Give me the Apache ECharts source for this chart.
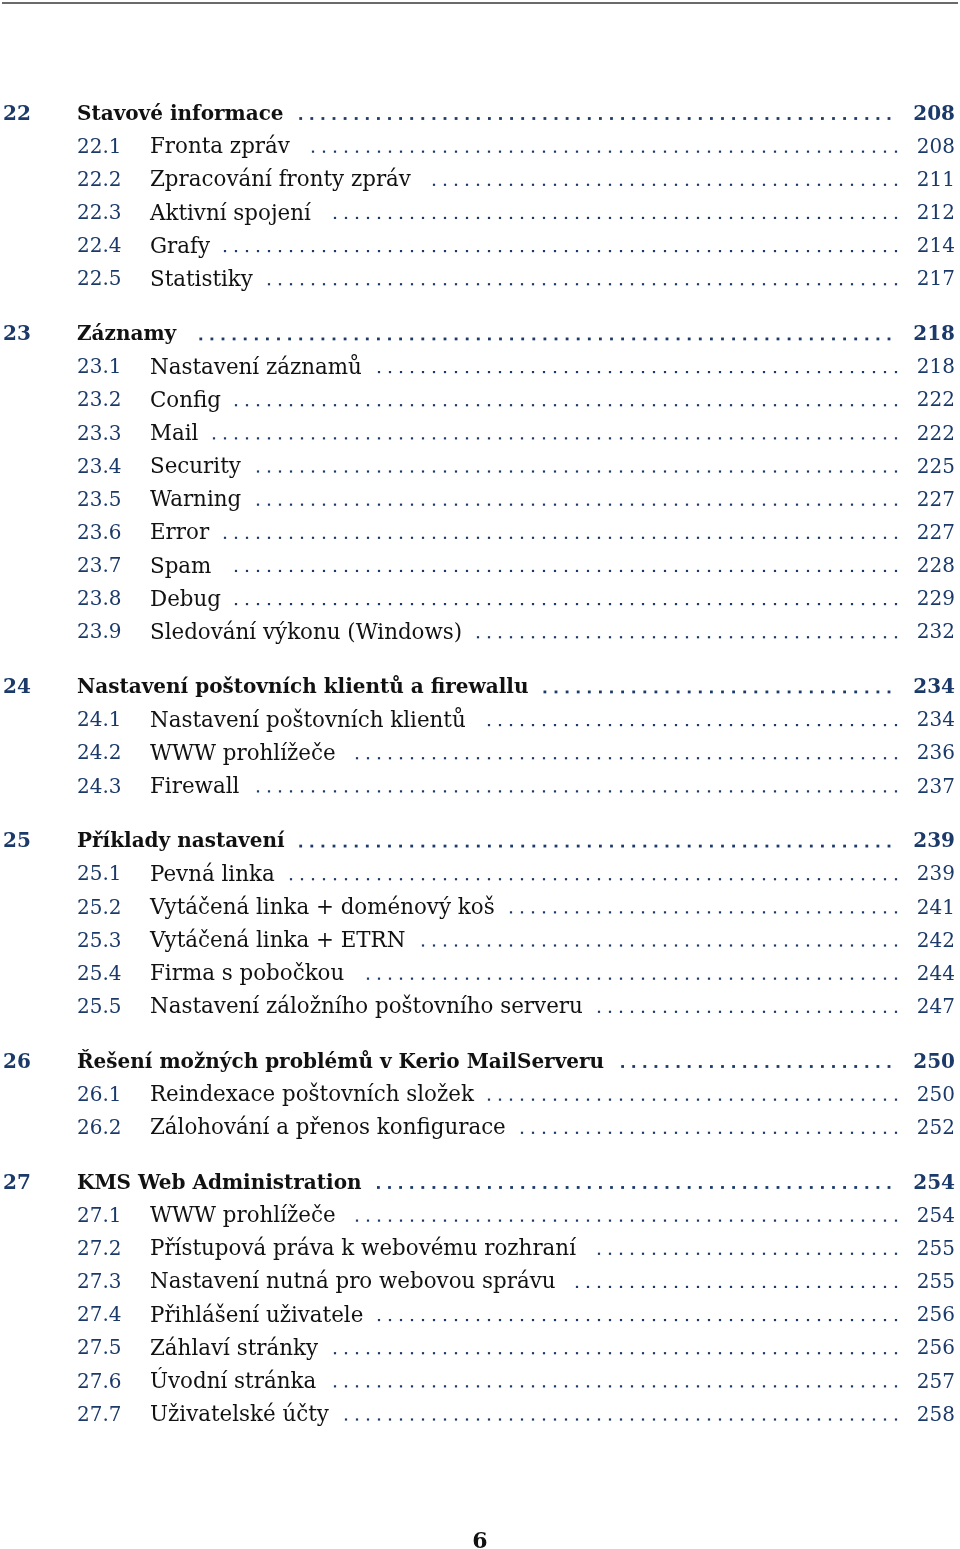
<!DOCTYPE html>
<html>
<head>
<meta charset="utf-8">
<script src="https://cdn.jsdelivr.net/npm/echarts@6/dist/echarts.min.js"></script>
<style>
html,body{margin:0;padding:0;background:#fff;}
#chart{width:960px;height:1549px;}
</style>
</head>
<body>
<div id="chart"></div>
<script>
// ---- data ----
const entryNumbers = ['22','22.1','22.2','22.3','22.4','22.5',
  '23','23.1','23.2','23.3','23.4','23.5','23.6','23.7','23.8','23.9',
  '24','24.1','24.2','24.3',
  '25','25.1','25.2','25.3','25.4','25.5',
  '26','26.1','26.2',
  '27','27.1','27.2','27.3','27.4','27.5','27.6','27.7'];
const entryTitles = ['Stavové informace','Fronta zpráv','Zpracování fronty zpráv','Aktivní spojení','Grafy','Statistiky',
  'Záznamy','Nastavení záznamů','Config','Mail','Security','Warning','Error','Spam','Debug','Sledování výkonu (Windows)',
  'Nastavení poštovních klientů a firewallu','Nastavení poštovních klientů','WWW prohlížeče','Firewall',
  'Příklady nastavení','Pevná linka','Vytáčená linka + doménový koš','Vytáčená linka + ETRN','Firma s pobočkou','Nastavení záložního poštovního serveru',
  'Řešení možných problémů v Kerio MailServeru','Reindexace poštovních složek','Zálohování a přenos konfigurace',
  'KMS Web Administration','WWW prohlížeče','Přístupová práva k webovému rozhraní','Nastavení nutná pro webovou správu','Přihlášení uživatele','Záhlaví stránky','Úvodní stránka','Uživatelské účty'];
const entryPages = [208,208,211,212,214,217,
  218,218,222,222,225,227,227,228,229,232,
  234,234,236,237,
  239,239,241,242,244,247,
  250,250,252,
  254,254,255,255,256,256,257,258];
const pageNumber = '6';

// ---- layout / style ----
const FONT = '"DejaVu Serif", serif';
const SIZE = 20;          // numbers and chapter titles
const TITLE_SIZE = 21.4;  // section titles
const NAVY = '#1b3a6a';
const INK = '#111111';
const CHAPTER_GAP = 0.65; // extra rows before each chapter
const TEXT_DY = 2.5;

const measureCtx = document.createElement('canvas').getContext('2d');
function textWidth(t, font) {
  measureCtx.font = font;
  return measureCtx.measureText(t).width;
}

// row positions derived from the entries
let chapterCount = -1;
const rows = entryNumbers.map((n, i) => {
  const isChapter = n.indexOf('.') < 0;
  if (isChapter) chapterCount++;
  return [0, i + Math.max(chapterCount, 0) * CHAPTER_GAP, i];
});
const lastPos = rows[rows.length - 1][1];

function renderItem(params, api) {
  const i = params.dataIndex;
  const isChapter = entryNumbers[i].indexOf('.') < 0;
  const pos = api.value(1);
  const y = api.coord([0, pos])[1];
  const xNum = api.coord([isChapter ? 3 : 77, pos])[0];
  const xTitle = api.coord([isChapter ? 77 : 150, pos])[0];
  const xPage = api.coord([955, pos])[0];
  const numFont = (isChapter ? 'bold ' : '') + SIZE + 'px ' + FONT;
  const titleFont = isChapter ? ('bold ' + SIZE + 'px ' + FONT) : (TITLE_SIZE + 'px ' + FONT);
  const children = [];
  children.push({type: 'text', style: {text: entryNumbers[i], x: xNum, y: y + TEXT_DY, fill: NAVY,
    font: numFont, verticalAlign: 'middle', align: 'left'}});
  children.push({type: 'text', style: {text: entryTitles[i], x: xTitle, y: y + TEXT_DY, fill: INK,
    font: titleFont, verticalAlign: 'middle', align: 'left'}});
  children.push({type: 'text', style: {text: String(entryPages[i]), x: xPage, y: y + TEXT_DY, fill: NAVY,
    font: numFont, verticalAlign: 'middle', align: 'right'}});
  // dotted leader aligned on a common grid
  const titleEnd = xTitle + textWidth(entryTitles[i], titleFont);
  const endX = isChapter ? 889 : 896;
  const sp = isChapter ? 11.1 : 11.0;
  const d = isChapter ? 2.8 : 2.2;
  const minStart = titleEnd + 14;
  const n = Math.floor((endX - minStart) / sp);
  const dotY = y + 6.5;
  for (let k = 0; k <= n; k++) {
    const cx = endX - k * sp;
    children.push({type: 'rect', shape: {x: cx - d / 2, y: dotY - d / 2, width: d, height: d},
      style: {fill: NAVY}});
  }
  return {type: 'group', children: children};
}

const chart = echarts.init(document.getElementById('chart'), null, {renderer: 'canvas'});
chart.setOption({
  animation: false,
  backgroundColor: '#ffffff',
  grid: {left: 0, right: 0, top: 112, bottom: 1549 - 1413},
  xAxis: {type: 'value', min: 0, max: 960, show: false},
  yAxis: {type: 'value', min: 0, max: lastPos, inverse: true, show: false},
  series: [{type: 'custom', renderItem: renderItem, data: rows, encode: {x: 0, y: 1}, clip: false}],
  graphic: [
    {type: 'line', shape: {x1: 2, y1: 3, x2: 958, y2: 3}, style: {stroke: '#6a6a6a', lineWidth: 2}},
    {type: 'text', style: {text: pageNumber, x: 480, y: 1540 + TEXT_DY, align: 'center', verticalAlign: 'middle',
      font: 'bold 22px ' + FONT, fill: INK}}
  ]
});
</script>
</body>
</html>
